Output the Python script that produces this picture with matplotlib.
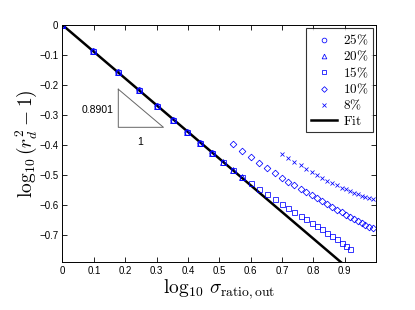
import matplotlib
matplotlib.use("Agg")
import matplotlib.pyplot as plt

plt.rcParams['mathtext.fontset'] = 'cm'
plt.rcParams['font.family'] = ['Liberation Sans', 'DejaVu Sans']

# 25% (circles)
x25 = [0.0, 0.097, 0.176, 0.243, 0.301, 0.352, 0.398, 0.439, 0.477]
y25 = [0.0, -0.088, -0.158, -0.218, -0.270, -0.316, -0.356, -0.392, -0.426]
# 20% (triangles)
x20 = [0.0, 0.097, 0.176, 0.243, 0.301, 0.352, 0.398, 0.439, 0.477, 0.512, 0.544, 0.574]
y20 = [0.0, -0.088, -0.158, -0.218, -0.270, -0.316, -0.356, -0.392, -0.426, -0.455, -0.482, -0.507]
# 15% (squares)
x15 = [0.0, 0.097, 0.176, 0.243, 0.301, 0.352, 0.398, 0.439, 0.477, 0.512, 0.544,
       0.574, 0.602, 0.628, 0.653, 0.677, 0.699, 0.720, 0.740, 0.760, 0.778, 0.796,
       0.813, 0.829, 0.845, 0.861, 0.875, 0.890, 0.903, 0.916]
y15 = [0.0, -0.088, -0.158, -0.218, -0.270, -0.316, -0.356, -0.392, -0.426, -0.455, -0.482,
       -0.505, -0.525, -0.545, -0.564, -0.580, -0.595, -0.609, -0.622, -0.635, -0.647, -0.659,
       -0.670, -0.681, -0.692, -0.703, -0.714, -0.725, -0.736, -0.746]
# 10% (diamonds)
x10 = [0.544, 0.574, 0.602, 0.628, 0.653, 0.677, 0.699, 0.720, 0.740, 0.760, 0.778, 0.796,
       0.813, 0.829, 0.845, 0.861, 0.875, 0.890, 0.903, 0.916, 0.929, 0.942, 0.954, 0.966,
       0.978, 0.989]
y10 = [-0.397, -0.419, -0.440, -0.460, -0.478, -0.494, -0.509, -0.522, -0.534, -0.546, -0.557,
       -0.568, -0.578, -0.588, -0.597, -0.606, -0.615, -0.624, -0.632, -0.639, -0.647, -0.654,
       -0.661, -0.667, -0.672, -0.677]
# 8% (crosses)
x8 = [0.699, 0.720, 0.740, 0.760, 0.778, 0.796, 0.813, 0.829, 0.845, 0.861, 0.875, 0.890,
      0.903, 0.916, 0.929, 0.942, 0.954, 0.966, 0.978, 0.989]
y8 = [-0.430, -0.444, -0.456, -0.468, -0.479, -0.489, -0.501, -0.511, -0.519, -0.528, -0.534,
      -0.542, -0.548, -0.553, -0.559, -0.564, -0.569, -0.573, -0.577, -0.580]

fit_x = [0.0, 1.0]
fit_y = [0.0, -0.8901]
slope_label = "0.8901"
run_label = "1"

xticks = [0, 0.1, 0.2, 0.3, 0.4, 0.5, 0.6, 0.7, 0.8, 0.9]
xticklabels = ["0", "0.1", "0.2", "0.3", "0.4", "0.5", "0.6", "0.7", "0.8", "0.9"]
yticks = [0, -0.1, -0.2, -0.3, -0.4, -0.5, -0.6, -0.7]
yticklabels = ["0", "\u22120.1", "\u22120.2", "\u22120.3", "\u22120.4", "\u22120.5", "\u22120.6", "\u22120.7"]

fig = plt.figure(figsize=(4.15, 3.10), dpi=100)
ax = fig.add_axes([0.1506, 0.1548, 0.7554, 0.7645])

col = '#0000ff'
mk = dict(linestyle='none', markerfacecolor='none', markeredgecolor=col,
          markeredgewidth=0.55, color=col)
ax.plot(x25, y25, marker='o', markersize=4.0, label=r'$25\%$', **mk)
ax.plot(x20, y20, marker='^', markersize=4.0, label=r'$20\%$', **mk)
ax.plot(x15, y15, marker='s', markersize=3.6, label=r'$15\%$', **mk)
ax.plot(x10, y10, marker='D', markersize=3.4, label=r'$10\%$', **mk)
ax.plot(x8, y8, marker='x', markersize=3.0, label=r'$8\%$', **mk)
ax.plot(fit_x, fit_y, color='black', linewidth=1.8, label=r'$\mathrm{Fit}$', zorder=1.5)

# slope triangle
tri_x = [0.178, 0.178, 0.322, 0.178]
tri_y = [-0.214, -0.341, -0.341, -0.214]
ax.plot(tri_x, tri_y, color='#666666', linewidth=0.7)
ax.text(0.112, -0.283, slope_label, ha='center', va='center', fontsize=7.5)
ax.text(0.248, -0.389, run_label, ha='center', va='center', fontsize=7.5)

ax.set_xlim(0, 1.0)
ax.set_ylim(-0.79, 0)
ax.set_xticks(xticks)
ax.set_xticklabels(xticklabels)
ax.set_yticks(yticks)
ax.set_yticklabels(yticklabels)
ax.tick_params(direction='in', top=True, right=True, labelsize=7, length=3.5, width=0.6, pad=3)
for s in ax.spines.values():
    s.set_linewidth(0.7)

ax.set_xlabel(r'$\log_{10}\,\sigma_{\mathrm{ratio,out}}$', fontsize=14, labelpad=1)
ax.set_ylabel(r'$\log_{10}(r_d^2-1)$', fontsize=14, labelpad=0)

leg = ax.legend(loc='upper right', fontsize=9.5, frameon=True, fancybox=False,
                edgecolor='black', borderpad=0.35, labelspacing=0.15,
                handlelength=2.0, handletextpad=0.4, borderaxespad=0.25,
                markerscale=0.85)
leg.get_frame().set_linewidth(0.8)

fig.savefig('out.png', dpi=100)
